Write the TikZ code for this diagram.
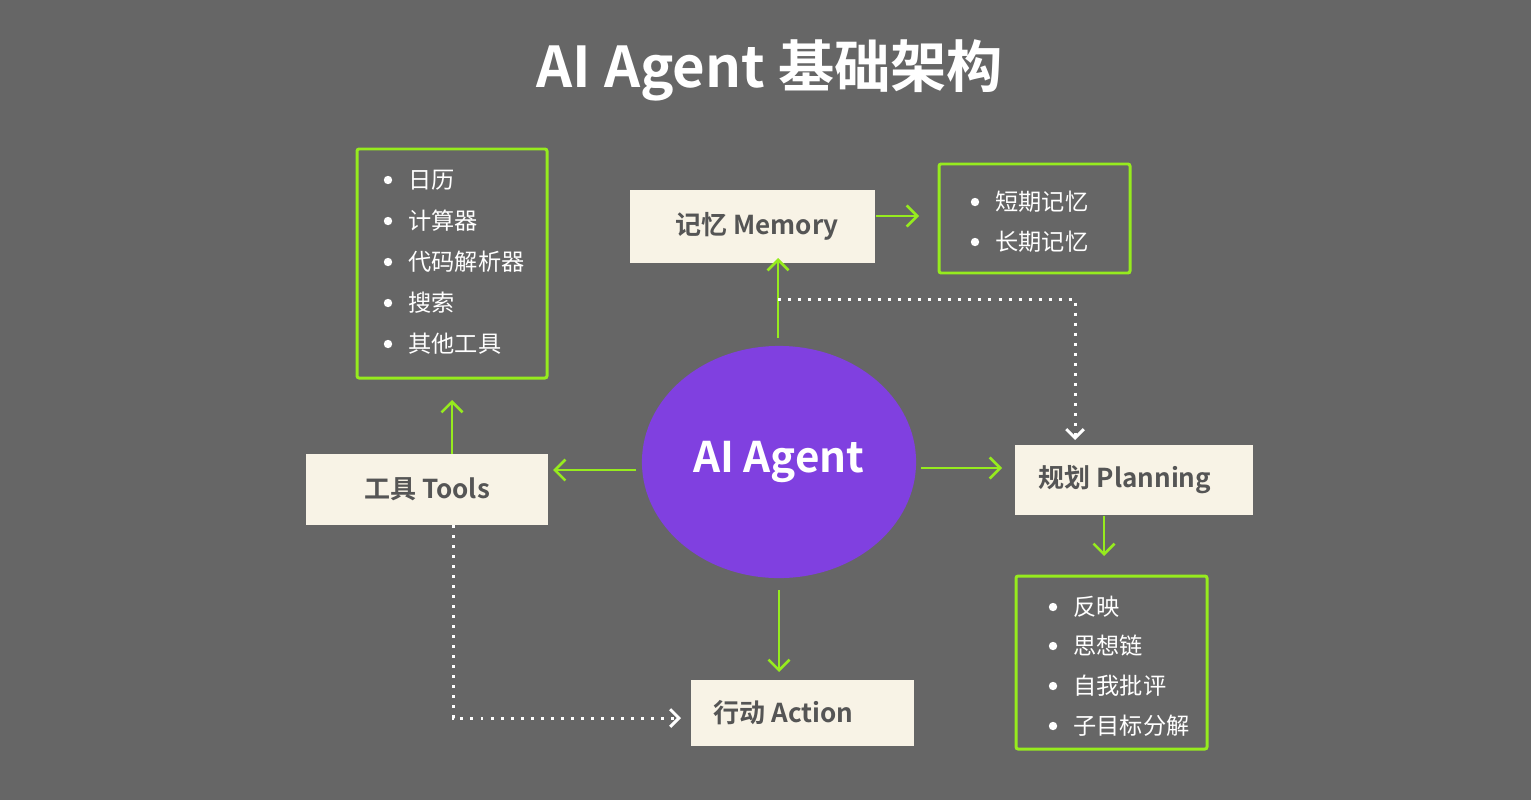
\documentclass[tikz,border=0pt]{standalone}
\usepackage{fontspec}
\setmainfont{Noto Sans CJK SC}[BoldFont=* Bold]
\usetikzlibrary{arrows.meta,shapes.geometric}
\definecolor{bgray}{RGB}{102,102,102}
\definecolor{cream}{RGB}{248,243,230}
\definecolor{lime}{RGB}{150,235,30}
\definecolor{agent}{RGB}{128,64,224}
\definecolor{boxtext}{RGB}{85,85,85}
\tikzset{
	box/.style={fill=cream, draw=none, text=boxtext, font=\fontsize{7.4}{9}\selectfont\bfseries},
	listbox/.style={draw=lime, line width=0.85pt, rounded corners=0.6pt},
	item/.style={text=white, anchor=west, font=\fontsize{6.6}{8}\selectfont},
	link/.style={draw=lime, line width=0.75pt, -{Straight Barb[length=3pt,width=6pt]}},
	dots/.style={draw=white, line width=0.85pt, dotted, -{Straight Barb[length=2.5pt,width=5pt]}}
}
\newcommand{\bulletitem}[3] % x, y, text
{
	\fill[white] (#1,#2) circle (4.2);
	\node[item] at (#1+8,#2) {#3};
}
\begin{document}
\begin{tikzpicture}[x=0.01cm, y=-0.01cm]
	% canvas 1531 x 800 px
	\fill[bgray] (0,0) rectangle (1531,800);
	\useasboundingbox (0,0) rectangle (1531,800);
	\node[text=white, font=\fontsize{16}{19}\selectfont\bfseries] (title) at (770,70) {AI Agent 基础架构};

	% centre
	\node[ellipse, fill=agent, minimum width=2.74cm, minimum height=2.32cm, inner sep=0,
		text=white, font=\fontsize{12}{14}\selectfont\bfseries] (agent) at (779,462) {AI Agent};
	\coordinate (agentN) at (778,338);
	\coordinate (agentS) at (779,590);
	\coordinate (agentW) at (636,470);
	\coordinate (agentE) at (921,468);

	% modules
	\node[box, minimum width=2.45cm, minimum height=0.73cm] (memory) at (752.5,226.5) {\kern0.09cm 记忆 Memory};
	\node[box, minimum width=2.42cm, minimum height=0.71cm] (tools) at (427,489.5) {工具 Tools};
	\node[box, minimum width=2.38cm, minimum height=0.70cm] (planning) at (1134,480) {规划 Planning\kern0.18cm};
	\node[box, minimum width=2.23cm, minimum height=0.66cm] (action) at (802.5,713) {行动 Action\kern0.38cm};

	% lists
	\draw[listbox] (939,164) rectangle (1130,273);
	\bulletitem{975}{202}{短期记忆}
	\bulletitem{975}{242}{长期记忆}

	\draw[listbox] (357,149) rectangle (547,378);
	\bulletitem{388}{180}{日历}
	\bulletitem{388}{221}{计算器}
	\bulletitem{388}{262}{代码解析器}
	\bulletitem{388}{303}{搜索}
	\bulletitem{388}{344}{其他工具}

	\draw[listbox] (1016,576) rectangle (1207,749);
	\bulletitem{1053}{607}{反映}
	\bulletitem{1053}{646}{思想链}
	\bulletitem{1053}{686}{自我批评}
	\bulletitem{1053}{726}{子目标分解}

	% arrows
	\coordinate (memlist) at (919,216);
	\coordinate (toollist) at (452,400);
	\coordinate (planlist) at (1104,556);
	\coordinate (planin) at (1002,468);
	\draw[link] (agentN) -- (778,258);
	\draw[link] (memory.east |- memlist) -- (memlist);
	\draw[link] (agentW) -- (553,470);
	\draw[link] (452,454) -- (toollist);
	\draw[link] (agentE) -- (planin);
	\draw[link] (planning.south -| planlist) -- (planlist);
	\draw[link] (agentS) -- (779,672);

	% dotted links
	\coordinate (memtap) at (778,299);
	\coordinate (tooltap) at (453,525);
	\draw[dots] (memtap) -- (1075,299) -- (1075,440);
	\draw[dots] (tooltap) -- (453,718) -- (681,718);
\end{tikzpicture}
\end{document}
